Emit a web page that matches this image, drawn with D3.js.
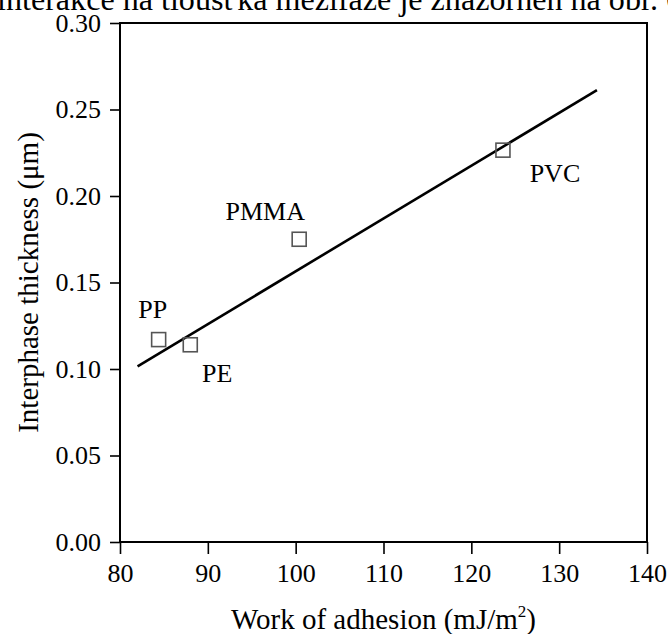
<!DOCTYPE html>
<html>
<head>
<meta charset="utf-8">
<script src="https://cdn.jsdelivr.net/npm/d3@7"></script>
<style>
  body { margin: 0; background: #fff; }
  svg { display: block; }
  text { font-family: "Liberation Serif", "Times New Roman", serif; fill: #000; }
</style>
</head>
<body>
<div id="chart"></div>
<script>
// data
let polymers = ["PP", "PE", "PMMA", "PVC"];
let workAdhesion = [84.4, 88.0, 100.4, 123.6];
let thickness = [0.117, 0.114, 0.175, 0.2265];
let fitX = [82.0, 134.3];
let fitY = [0.1015, 0.2612];
let xTicks = [80, 90, 100, 110, 120, 130, 140];
let yTicks = [0.00, 0.05, 0.10, 0.15, 0.20, 0.25, 0.30];

// label offsets in px from the marker (text centre / baseline)
let labelOffset = {
    PP: [-6, -22],
    PE: [27, 37],
    PMMA: [-34, -19],
    PVC: [52, 32]
};

const W = 668, H = 634;
const margin = {top: 23, right: 21, bottom: 92, left: 120};
const width = W - margin.left - margin.right,
      height = H - margin.top - margin.bottom;

const serif = '"Liberation Serif", "Times New Roman", serif';

let svg = d3.select("#chart")
    .append("svg")
    .attr("width", W)
    .attr("height", H);

// cut-off line of body text above the figure
svg.append("text")
    .attr("x", -3)
    .attr("y", 10)
    .attr("textLength", 685)
    .attr("lengthAdjust", "spacingAndGlyphs")
    .style("font-family", serif)
    .style("font-size", "31px")
    .text("interakce na tloušťka mezifáze je znázorněn na obr. 6");

let g = svg.append("g")
    .attr("transform", "translate(" + margin.left + "," + margin.top + ")");

const x = d3.scaleLinear().domain([80, 140]).range([0, width]);
const y = d3.scaleLinear().domain([0, 0.30]).range([height, 0]);

// frame
g.append("rect")
    .attr("width", width)
    .attr("height", height)
    .attr("fill", "none")
    .attr("stroke", "#000")
    .attr("stroke-width", 2);

let xAxis = g.append("g")
    .attr("transform", "translate(0," + height + ")")
    .call(d3.axisBottom(x).tickValues(xTicks).tickSize(12).tickPadding(6).tickFormat(d3.format("d")));

let yAxis = g.append("g")
    .call(d3.axisLeft(y).tickValues(yTicks).tickSize(10).tickPadding(9).tickFormat(d3.format(".2f")));

[xAxis, yAxis].forEach(function(a) {
    a.attr("font-family", serif).attr("font-size", 26);
    a.select(".domain").remove();
    a.selectAll("line").attr("stroke", "#000").attr("stroke-width", 1.6);
    a.selectAll("text")
        .style("font-family", serif)
        .style("font-size", "26px")
        .attr("fill", "#000");
});
xAxis.selectAll("text").attr("dy", "0.85em");

// fitted line
let line = d3.line()
    .x(function(d){ return x(d[0]); })
    .y(function(d){ return y(d[1]); });

g.append("path")
    .datum(d3.zip(fitX, fitY))
    .attr("d", line)
    .attr("fill", "none")
    .attr("stroke", "#000")
    .attr("stroke-width", 2.6);

// square markers
let pts = polymers.map(function(p, i) { return {name: p, wa: workAdhesion[i], t: thickness[i]}; });
const sq = 14;

g.selectAll(".marker")
    .data(pts)
    .enter()
    .append("rect")
    .attr("class", "marker")
    .attr("x", function(d){ return x(d.wa) - sq / 2; })
    .attr("y", function(d){ return y(d.t) - sq / 2; })
    .attr("width", sq)
    .attr("height", sq)
    .attr("fill", "none")
    .attr("stroke", "#555")
    .attr("stroke-width", 1.6);

g.selectAll(".pt-label")
    .data(pts)
    .enter()
    .append("text")
    .attr("class", "pt-label")
    .attr("x", function(d){ return x(d.wa) + labelOffset[d.name][0]; })
    .attr("y", function(d){ return y(d.t) + labelOffset[d.name][1]; })
    .attr("text-anchor", "middle")
    .style("font-family", serif)
    .style("font-size", "26px")
    .text(function(d){ return d.name; });

// axis titles
let xt = svg.append("text")
    .attr("x", margin.left + width / 2)
    .attr("y", 629)
    .attr("text-anchor", "middle")
    .style("font-family", serif)
    .style("font-size", "29px")
    .text("Work of adhesion (mJ/m");
xt.append("tspan").attr("dy", -12).style("font-size", "17px").text("2");
xt.append("tspan").attr("dy", 12).text(")");

svg.append("text")
    .attr("transform", "translate(38," + (margin.top + height / 2) + ") rotate(-90)")
    .attr("text-anchor", "middle")
    .style("font-family", serif)
    .style("font-size", "29px")
    .text("Interphase thickness (μm)");
</script>
</body>
</html>
